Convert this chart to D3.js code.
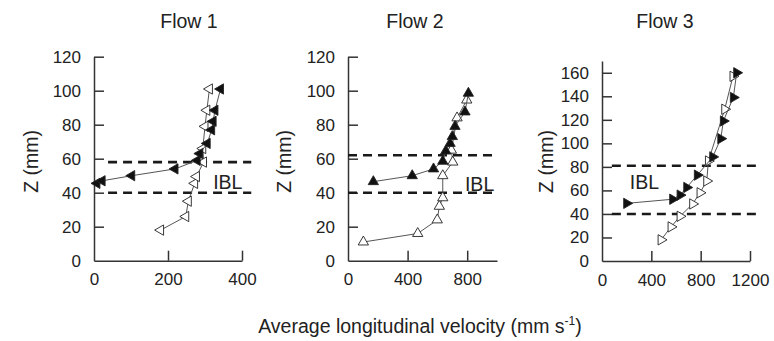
<!DOCTYPE html>
<html>
<head>
<meta charset="utf-8">
<script src="https://cdn.jsdelivr.net/npm/d3@7/dist/d3.min.js"></script>
<style>
html,body{margin:0;padding:0;background:#fff;}
svg text{font-family:"Liberation Sans",Arial,sans-serif;fill:#222;}
</style>
</head>
<body>
<svg id="chart" width="774" height="341"></svg>
<script>
// ---------------- data ----------------
const flowTitles = ["Flow 1", "Flow 2", "Flow 3"];
const yTicks1 = [0, 20, 40, 60, 80, 100, 120];
const yTicks3 = [0, 20, 40, 60, 80, 100, 120, 140, 160];
const xTicks1 = [0, 200, 400];
const xTicks2 = [0, 400, 800];
const xTicks3 = [0, 400, 800, 1200];

// Flow 1 (left-pointing triangles)
const f1OpenV = [180, 248, 255, 272, 277, 296, 294, 300, 305, 312];
const f1OpenZ = [18, 26, 35, 45.5, 49.5, 58, 66, 79, 88.5, 101];
const f1FillV = [8, 22, 102, 219, 279, 286, 306, 318, 322, 327, 342];
const f1FillZ = [45.5, 47, 50, 54, 59, 63, 69, 77, 82, 88.5, 101];
// Flow 2 (up-pointing triangles)
const f2OpenV = [103, 468, 599, 613, 636, 636, 703, 694, 732, 797];
const f2OpenZ = [11, 16, 24, 32, 37, 50, 58, 65, 84, 94.5];
const f2FillV = [170, 431, 574, 636, 656, 685, 700, 718, 785, 808];
const f2FillZ = [46.5, 50, 54, 58.5, 64.5, 69, 73, 79, 87.5, 98.5];
// Flow 3 (right-pointing triangles)
const f3OpenV = [479, 560, 633, 735, 795, 849, 863, 995, 1062];
const f3OpenZ = [18, 29, 38, 48.5, 58, 68, 85, 129, 157];
const f3FillV = [200, 573, 633, 687, 773, 898, 963, 984, 1065, 1092];
const f3FillZ = [49, 52.5, 56, 62.5, 73, 88.5, 104, 119, 139, 160];

// IBL bounds (mm) and dashed-line extents (velocity units)
const iblLow = [40, 40, 40];
const iblHigh = [58, 62, 81];
const dashFrom = [38, 0, 80];
const dashTo = [425, 1005, 1255];
// IBL label anchor (velocity, z)
const iblLabelV = [322, 785, 225];
const iblLabelZ = [46, 45, 67];

// ---------------- layout ----------------
const panels = [
  {x0: 94, x1: 242, xMax: 400, yTop: 56.7, yBot: 260.7, yMax: 120, xt: xTicks1, yt: yTicks1, rot: -90,
   open: [f1OpenV, f1OpenZ], fill: [f1FillV, f1FillZ], titleX: 189, yLabX: 31},
  {x0: 348, x1: 497, xMax: 1000, yTop: 56.7, yBot: 260.7, yMax: 120, xt: xTicks2, yt: yTicks1, rot: 0,
   open: [f2OpenV, f2OpenZ], fill: [f2FillV, f2FillZ], titleX: 415, yLabX: 284},
  {x0: 602, x1: 750, xMax: 1200, yTop: 61, yBot: 261, yMax: 170, xt: xTicks3, yt: yTicks3, rot: 90,
   open: [f3OpenV, f3OpenZ], fill: [f3FillV, f3FillZ], titleX: 665, yLabX: 546}
];

const svg = d3.select("#chart");
const FS = 17;   // tick labels
const LS = 19.5; // titles and labels
const axisColor = "#333";

panels.forEach((p, i) => {
  const x = d3.scaleLinear().domain([0, p.xMax]).range([p.x0, p.x1]);
  const y = d3.scaleLinear().domain([0, p.yMax]).range([p.yBot, p.yTop]);
  const g = svg.append("g");

  // title
  g.append("text").attr("x", p.titleX).attr("y", 28).attr("text-anchor", "middle")
    .style("font-size", LS + "px").text(flowTitles[i]);

  // y axis
  const ya = g.append("g").attr("transform", `translate(${p.x0},0)`)
    .call(d3.axisLeft(y).tickValues(p.yt).tickFormat(d3.format("d"))
      .tickSizeInner(-10).tickSizeOuter(0).tickPadding(13));
  // x axis
  const xa = g.append("g").attr("transform", `translate(0,${p.yBot})`)
    .call(d3.axisBottom(x).tickValues(p.xt).tickFormat(d3.format("d"))
      .tickSizeInner(-10).tickSizeOuter(0).tickPadding(16));
  [ya, xa].forEach(a => {
    a.select(".domain").attr("stroke", axisColor).attr("stroke-width", 1.5);
    a.selectAll(".tick line").attr("stroke", axisColor).attr("stroke-width", 1.5);
    a.selectAll(".tick text").style("font-size", FS + "px").attr("fill", "#222")
      .style("font-family", '"Liberation Sans",Arial,sans-serif');
  });
  xa.selectAll(".tick text").attr("dy", "0.5em");
  ya.selectAll(".tick").filter(d => d === 0).select("line").remove();
  xa.selectAll(".tick").filter(d => d === 0).select("line").remove();

  // y axis label
  g.append("text").attr("transform", `translate(${p.yLabX},${(p.yBot + 58) / 2 + 2}) rotate(-90)`)
    .attr("text-anchor", "middle").attr("dy", "0.35em").style("font-size", LS + "px").text("Z (mm)");

  // IBL dashed lines
  [iblLow[i], iblHigh[i]].forEach(z => {
    g.append("line").attr("x1", x(dashFrom[i])).attr("x2", x(dashTo[i]))
      .attr("y1", y(z)).attr("y2", y(z))
      .attr("stroke", "#1a1a1a").attr("stroke-width", 2.6).attr("stroke-dasharray", "9,6");
  });
  g.append("text").attr("x", x(iblLabelV[i])).attr("y", y(iblLabelZ[i]))
    .attr("dy", "0.35em").style("font-size", LS + "px").text("IBL");

  // series
  const line = d3.line().x(d => x(d[0])).y(d => y(d[1]));
  const sym = d3.symbol().type(d3.symbolTriangle).size(46);
  const series = [
    {v: p.open[0], z: p.open[1], fill: "#fff"},
    {v: p.fill[0], z: p.fill[1], fill: "#111"}
  ];
  series.forEach(s => {
    const pts = s.v.map((v, k) => [v, s.z[k]]);
    g.append("path").attr("d", line(pts)).attr("fill", "none")
      .attr("stroke", "#555").attr("stroke-width", 1);
    g.selectAll(null).data(pts).enter().append("path")
      .attr("d", sym)
      .attr("transform", d => `translate(${x(d[0])},${y(d[1])}) rotate(${p.rot})`)
      .attr("fill", s.fill).attr("stroke", "#222").attr("stroke-width", 0.9);
  });
});

// common x label
const xl = svg.append("text").attr("x", 420).attr("y", 333).attr("text-anchor", "middle")
  .style("font-size", LS + "px");
xl.append("tspan").text("Average longitudinal velocity (mm s");
xl.append("tspan").attr("dy", -8).style("font-size", "12px").text("-1");
xl.append("tspan").attr("dy", 8).text(")");
</script>
</body>
</html>
